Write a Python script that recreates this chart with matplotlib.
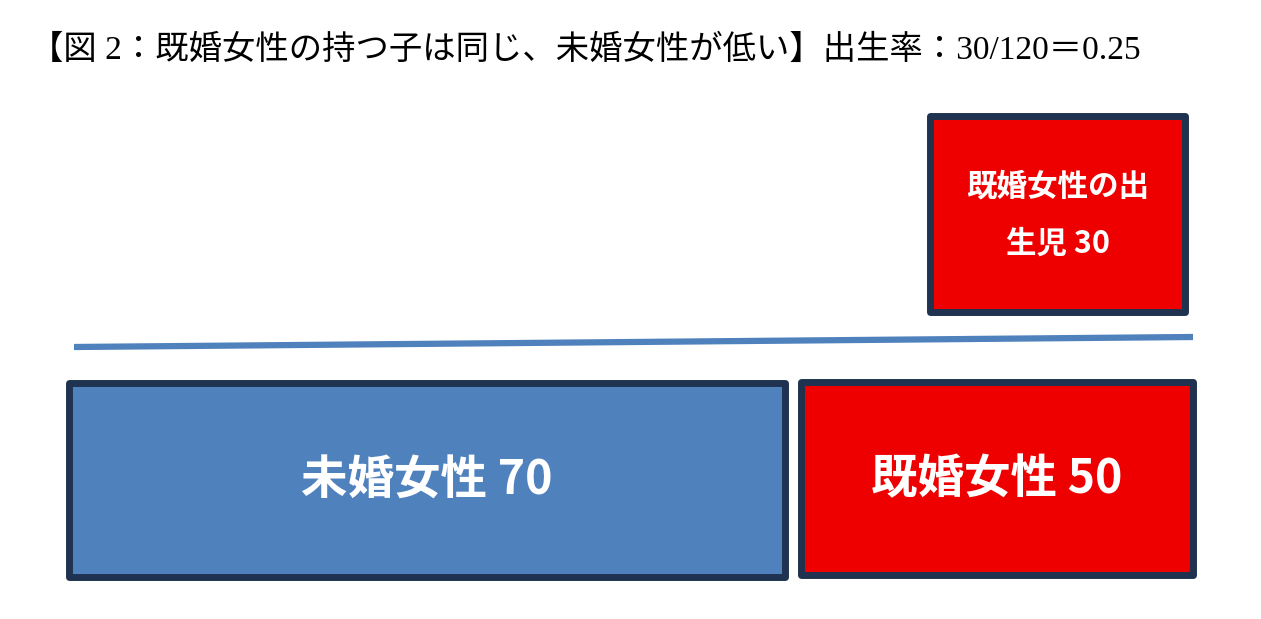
import matplotlib
matplotlib.use("Agg")
import matplotlib.pyplot as plt
from matplotlib.patches import Rectangle

# ---- data ----
title = "【図 2：既婚女性の持つ子は同じ、未婚女性が低い】出生率：30/120＝0.25"
labels = ["未婚女性", "既婚女性", "既婚女性の出\n生児"]
values = [70, 50, 30]

# ---- layout (pixel coordinates of the diagram) ----
W, H = 1261, 619
boxes = [  # x0, y0, x1, y1
    (69, 383, 785, 577),
    (801, 382, 1193, 575),
    (930, 116, 1185, 312),
]
fills = ["#4f81bd", "#ee0000", "#ee0000"]
edge = "#1f3350"
text_sizes = [33.5, 33.5, 22]

fig = plt.figure(figsize=(W / 100, H / 100), dpi=100)
ax = fig.add_axes([0, 0, 1, 1])
ax.set_xlim(0, W)
ax.set_ylim(H, 0)
ax.axis("off")

cjk = ["Noto Sans CJK JP", "DejaVu Sans"]

fig.text(30 / W, 1 - 50 / H, title, fontsize=24, va="center", ha="left",
         family=["Liberation Serif", "Noto Sans CJK JP"], color="black")

for (x0, y0, x1, y1), fc, lab, v, fs in zip(boxes, fills, labels, values, text_sizes):
    ax.add_patch(Rectangle((x0, y0), x1 - x0, y1 - y0, facecolor=fc,
                           edgecolor=edge, linewidth=5, joinstyle="round"))
    ax.text((x0 + x1) / 2, (y0 + y1) / 2 + 1, f"{lab} {v}", ha="center", va="center",
            fontsize=fs, color="white", fontweight="bold", family=cjk,
            linespacing=2.0)

# separator line
ax.plot([74, 1193], [347, 337], color="#4f81bd", linewidth=4.5,
        solid_capstyle="butt")

fig.savefig("out.png", dpi=100, facecolor="white")
